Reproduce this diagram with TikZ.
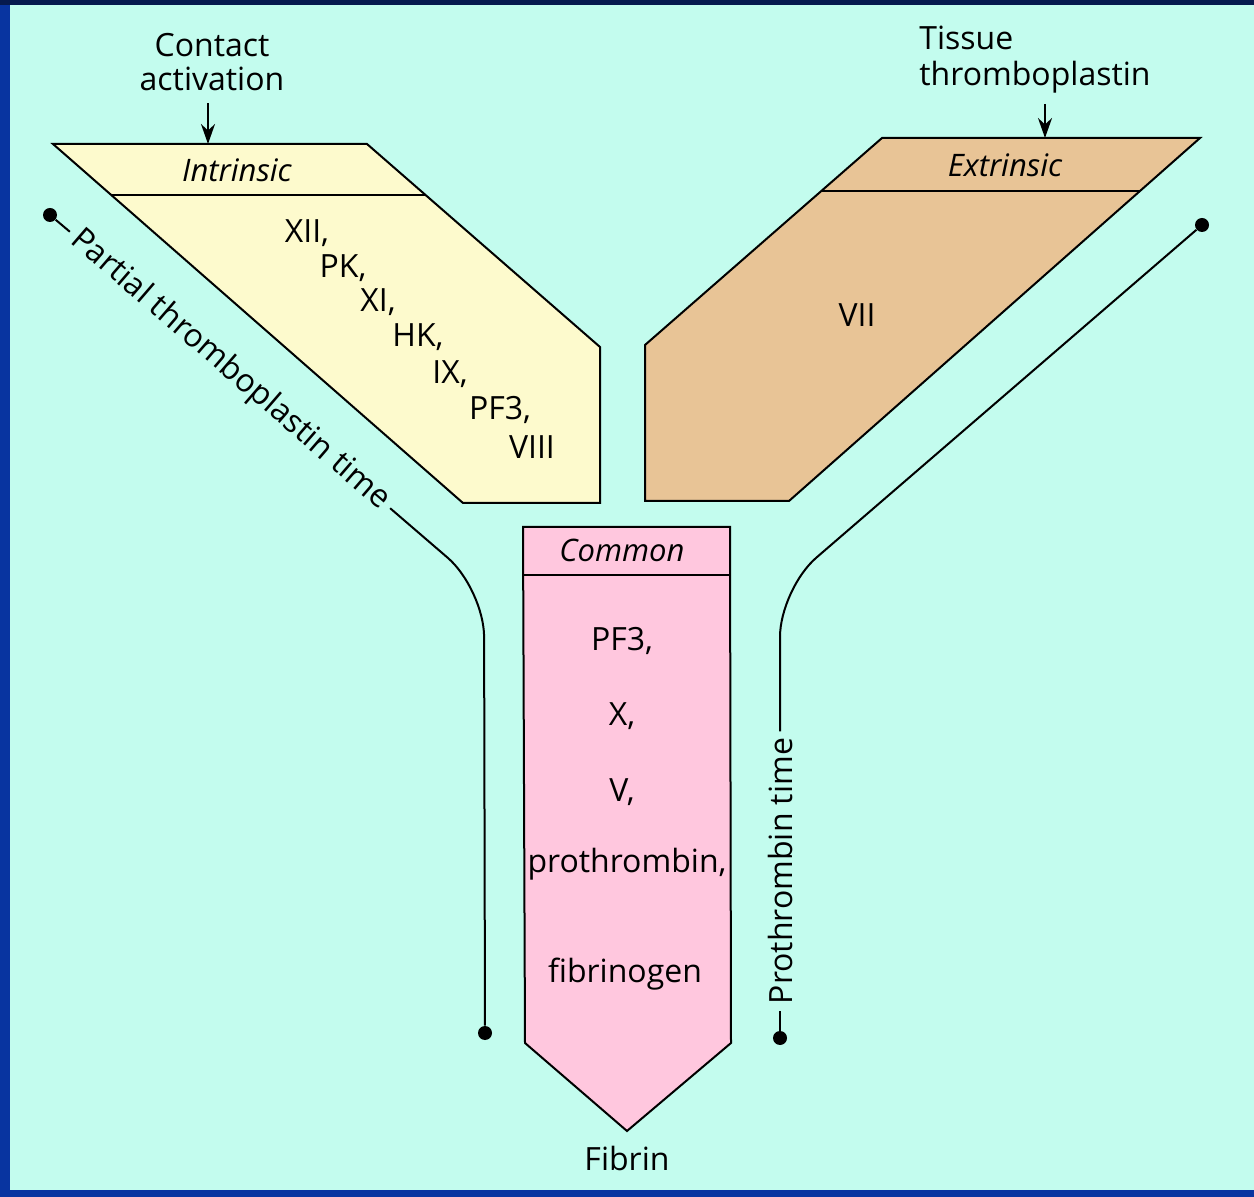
\documentclass[tikz,border=0pt]{standalone}
\usepackage{fontspec}
\setmainfont{Open Sans}
\usepackage{tikz}
\usetikzlibrary{calc,arrows.meta}
\definecolor{bgmint}{RGB}{195,252,238}
\definecolor{frameblue}{RGB}{8,52,160}
\definecolor{framenavy}{RGB}{6,26,78}
\definecolor{intrinsicyellow}{RGB}{253,250,205}
\definecolor{extrinsictan}{RGB}{232,196,150}
\definecolor{commonpink}{RGB}{255,199,222}
\tikzset{
   pathway/.style={draw=black,line width=1pt,line join=miter},
   factor node/.style={font=\fontsize{16}{17}\selectfont,inner sep=1pt},
   title node/.style={inner sep=1pt,font=\fontsize{15.5}{17}\selectfont\itshape},
   test line/.style={draw=black,line width=1pt,rounded corners=24pt},
   test dot/.style={circle,fill=black,inner sep=0pt,minimum size=7pt}
}

\begin{document}
\begin{tikzpicture}[x=0.5pt,y=-0.5pt,>={Stealth[length=10pt,width=7pt]}]
\useasboundingbox (0,0) rectangle (1254,1197);
% slide frame
\fill[bgmint] (0,0) rectangle (1254,1197);
\fill[frameblue] (0,0) rectangle (10,1197);
\fill[frameblue] (0,1190) rectangle (1254,1197);
\fill[framenavy] (0,0) rectangle (1254,5);
%
% intrinsic pathway
\filldraw[pathway,fill=intrinsicyellow] (53,144) -- (367,144) -- (600,347) -- (600,503) -- (463,503) -- cycle;
\draw[pathway] (111,195) -- (425,195);
\coordinate (intop) at (208,144);
\node[factor node,align=center] (contact) at (212,62) {Contact\\activation};
\draw[->,line width=1pt,shorten <=5pt] (contact.south -| intop) -- (intop);
\node[title node] (intrinsic) at (237,170) {Intrinsic};
\foreach \x/\y/\lab [count=\i] in {307/233/{XII,}, 343/268/{PK,}, 378/302/{XI,}, 418/337/{HK,},
                                   450/374/{IX,}, 500/410/{PF3,}, 532/447/{VIII}}
  \node[factor node] (in\i) at (\x,\y) {\lab};
%
% extrinsic pathway
\filldraw[pathway,fill=extrinsictan] (882,138) -- (1200,138) -- (789,501) -- (645,501) -- (645,345) -- cycle;
\draw[pathway] (821,191) -- (1140,191);
\coordinate (extop) at (1045,138);
\node[factor node,align=left,anchor=west,font=\fontsize{16}{18}\selectfont] (tissue) at (917,60) {Tissue\\thromboplastin};
\draw[->,line width=1pt,shorten <=4pt] (tissue.south -| extop) -- (extop);
\node[title node] (extrinsic) at (1005,165) {Extrinsic};
\node[factor node] (vii) at (857,315) {VII};
%
% common pathway
\filldraw[pathway,fill=commonpink] (523,527) -- (730,527) -- (731,1043) -- (627,1131) -- (525,1043) -- cycle;
\draw[pathway] (523,575) -- (730,575);
\node[title node] (common) at (622,550) {Common};
\node[factor node] (c1) at (622,641) {PF3,};
\node[factor node] (c2) at (622,716) {X,};
\node[factor node] (c3) at (622,792) {V,};
\node[factor node] (c4) at (627,864) {prothrombin,};
\node[factor node] (c5) at (625,974) {fibrinogen};
\node[factor node] (fibrin) at (627,1158) {Fibrin};
%
% partial thromboplastin time
\node[test dot] (pttstart) at (50,215) {};
\node[test dot] (pttend) at (485,1033) {};
\coordinate (pttbend) at (484,589);
\node[factor node,rotate=-40.8,inner sep=3pt] (ptt) at (230,370) {Partial thromboplastin time};
\draw[test line] (pttstart) -- (ptt.west);
\draw[test line] (ptt.east) -- (pttbend) -- (pttend);
%
% prothrombin time
\node[test dot] (ptstart) at (1202,225) {};
\node[test dot] (ptend) at (780,1038) {};
\coordinate (ptbend) at (780,589);
\node[factor node,rotate=90,inner sep=3pt] (pt) at (780,871) {Prothrombin time};
\draw[test line] (ptend) -- (pt.west);
\draw[test line] (pt.east) -- (ptbend) -- (ptstart);

\end{tikzpicture}
\end{document}
